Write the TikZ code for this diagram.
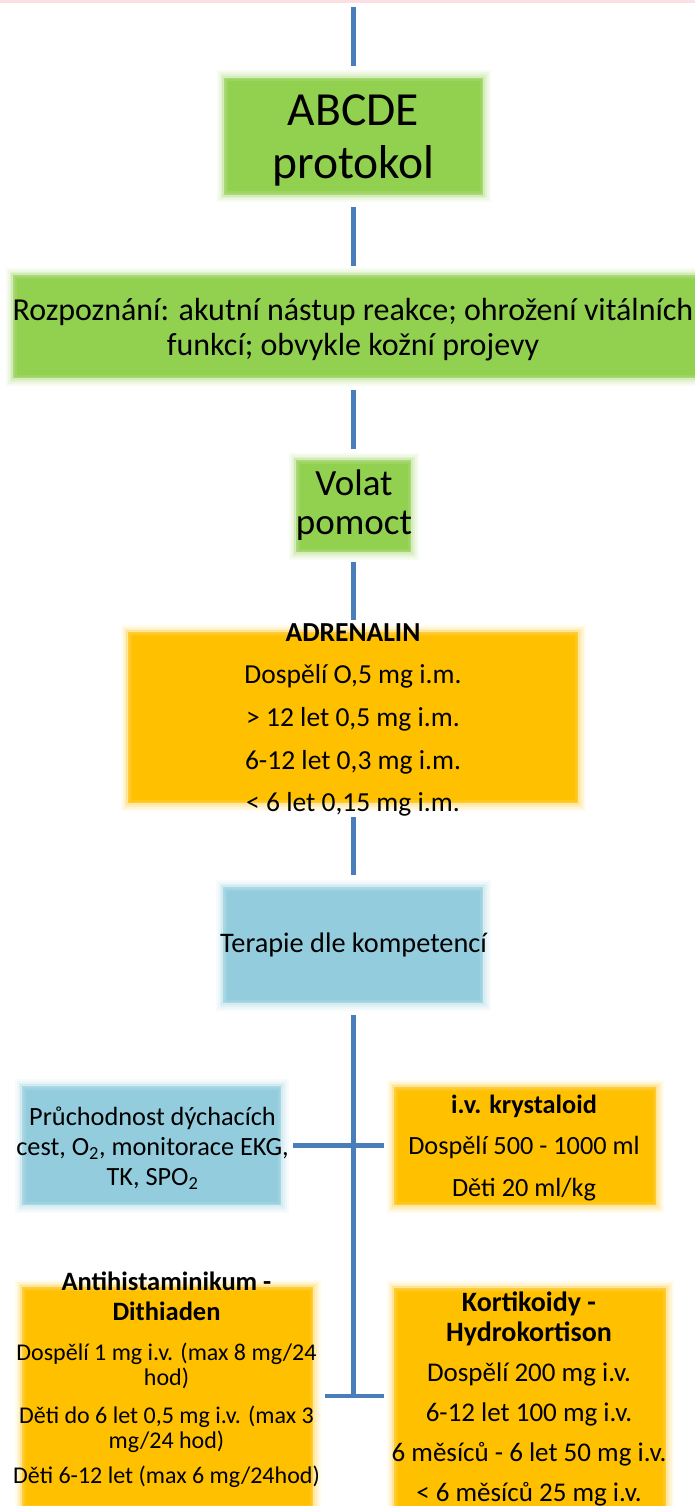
\documentclass[tikz,border=0pt]{standalone}
\usepackage{fontspec}
\setmainfont{Carlito}
\definecolor{leaf}{HTML}{92D050}
\definecolor{amber}{HTML}{FFC000}
\definecolor{sky}{HTML}{93CDDD}
\definecolor{linkblue}{HTML}{4A7EBB}
\definecolor{rosetop}{HTML}{FBE0E3}
\newcommand{\fs}[2]{\fontsize{#1}{#2}\selectfont}
\tikzset{
  softbox/.style={fill=#1, draw=none, inner sep=0pt, outer sep=0pt,
    preaction={draw=#1, draw opacity=.07, line width=15pt},
    preaction={draw=#1, draw opacity=.10, line width=11pt},
    preaction={draw=#1, draw opacity=.16, line width=7pt},
    preaction={draw=#1, draw opacity=.25, line width=3.5pt},
    postaction={draw=white, draw opacity=.10, line width=7pt},
    postaction={draw=white, draw opacity=.12, line width=3pt}},
  txt/.style={align=center, inner sep=0pt, text=black},
  link/.style={draw=linkblue, line width=4.5pt},
}
\begin{document}
\begin{tikzpicture}[x=1pt, y=-1pt]
\useasboundingbox (0,0) rectangle (695,1506);
\fill[rosetop] (0,0) rectangle (695,3.5);

% boxes
\node[softbox=leaf, minimum width=259pt, minimum height=117pt] (abcde) at (353.5,136.5) {};
\node[softbox=leaf, minimum width=687pt, minimum height=103pt] (rozp) at (356.5,326.5) {};
\node[softbox=leaf, minimum width=115pt, minimum height=92pt] (volat) at (353.5,506) {};
\node[softbox=amber, minimum width=450pt, minimum height=171pt] (adren) at (353,717.5) {};
\node[softbox=sky, minimum width=260pt, minimum height=116pt] (terapie) at (353,945) {};
\node[softbox=sky, minimum width=259pt, minimum height=119pt] (airway) at (151.5,1145.5) {};
\node[softbox=amber, minimum width=262pt, minimum height=118pt] (kryst) at (525,1146) {};
\node[softbox=amber, minimum width=291pt, minimum height=221pt] (antihist) at (167.5,1397.5) {};
\node[softbox=amber, minimum width=272pt, minimum height=222pt] (kort) at (530,1399) {};

% texts
\node[txt, font=\fs{47.5}{53}] (abcde-t) at (353.5,140) {ABCDE\\protokol};
\node[txt, font=\fs{32}{35}] (rozp-t) at (353,329.5) {Rozpoznání: akutní nástup reakce; ohrožení vitálních\\funkcí; obvykle kožní projevy};
\node[txt, font=\fs{37}{39}] (volat-t) at (354,505.5) {Volat\\pomoct};
\node[txt, font=\fs{27.5}{42.7}] (adren-t) at (353,720) {\textbf{ADRENALIN}\\Dospělí O,5 mg i.m.\\> 12 let 0,5 mg i.m.\\6-12 let 0,3 mg i.m.\\< 6 let 0,15 mg i.m.};
\node[txt, font=\fs{28.3}{34}] (terapie-t) at (353.5,945) {Terapie dle kompetencí};
\node[txt, font=\fs{26.3}{30}] (airway-t) at (152.5,1148) {Průchodnost dýchacích\\cest, O\textsubscript{2}, monitorace EKG,\\TK, SPO\textsubscript{2}};
\node[txt, font=\fs{26.3}{41.5}] (kryst-t) at (524,1148) {\textbf{i.v. krystaloid}\\Dospělí 500 - 1000 ml\\Děti 20 ml/kg};
\node[txt, font=\fs{24}{25}] (antihist-t) at (166.5,1379.5) {{\fs{26.5}{25}\textbf{Antihistaminikum -}}\\[5pt]{\fs{26.5}{25}\textbf{Dithiaden}}\\[15pt]Dospělí 1 mg i.v. (max 8 mg/24\\hod)\\[13pt]Děti do 6 let 0,5 mg i.v. (max 3\\mg/24 hod)\\[10pt]Děti 6-12 let (max 6 mg/24hod)};
\node[txt, font=\fs{27}{40}] (kort-t) at (529,1399) {{\fs{28}{40}\textbf{Kortikoidy -}}\\[-10pt]{\fs{28}{40}\textbf{Hydrokortison}}\\Dospělí 200 mg i.v.\\6-12 let 100 mg i.v.\\6 měsíců - 6 let 50 mg i.v.\\< 6 měsíců 25 mg i.v.};

% connectors
\coordinate (start) at (353.5,7);
\coordinate (foot) at (353.5,1396);
\draw[link, shorten >=12pt] (start) -- (start |- abcde.north);
\draw[link, shorten <=12pt, shorten >=9pt] (abcde.south) -- (abcde.south |- rozp.north);
\draw[link, shorten <=12pt, shorten >=11pt] (abcde.south |- rozp.south) -- (volat.north);
\draw[link, shorten <=10pt, shorten >=12pt] (volat.south) -- (volat.south |- adren.north);
\draw[link, shorten <=14pt, shorten >=12pt] (volat.south |- adren.south) -- (volat.south |- terapie.north);
\draw[link, shorten <=12pt] (volat.south |- terapie.south) -- (foot);
\draw[link, shorten <=12pt, shorten >=10pt] (airway.east) -- (airway.east -| kryst.west);
\draw[link, shorten <=12pt, shorten >=10pt] (antihist.east |- foot) -- (foot -| kort.west);
\end{tikzpicture}
\end{document}
